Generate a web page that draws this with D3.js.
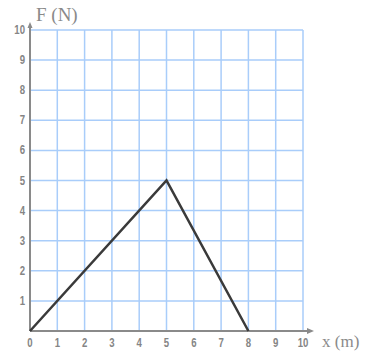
<!DOCTYPE html>
<html>
<head>
<meta charset="utf-8">
<script src="https://cdn.jsdelivr.net/npm/d3@7"></script>
<style>
  body { margin: 0; background: #fff; }
  svg { display: block; }
</style>
</head>
<body>
<div id="chart"></div>
<script>
// data
const xTicks = [0, 1, 2, 3, 4, 5, 6, 7, 8, 9, 10];
const yTicks = [1, 2, 3, 4, 5, 6, 7, 8, 9, 10];
const forceX = [0, 5, 8];
const forceY = [0, 5, 0];
const xLabel = "x (m)";
const yLabel = "F (N)";

const width = 376, height = 353;
const margin = { top: 30, right: 73, bottom: 22, left: 30 };

const svg = d3.select("#chart").append("svg")
    .attr("width", width)
    .attr("height", height);

const x = d3.scaleLinear().domain([0, 10]).range([margin.left, width - margin.right]);
const y = d3.scaleLinear().domain([0, 10]).range([height - margin.bottom, margin.top]);

// grid
const grid = svg.append("g").attr("stroke", "#a9cdfa").attr("stroke-width", 1.5);
grid.selectAll(".gx").data(xTicks.slice(1)).enter().append("line")
    .attr("x1", d => x(d)).attr("x2", d => x(d))
    .attr("y1", y(0)).attr("y2", y(10));
grid.selectAll(".gy").data(yTicks).enter().append("line")
    .attr("x1", x(0)).attr("x2", x(10))
    .attr("y1", d => y(d)).attr("y2", d => y(d));

// axes
const axisColor = "#8a8a8a";
svg.append("line")
    .attr("x1", x(0)).attr("x2", x(10) + 7)
    .attr("y1", y(0)).attr("y2", y(0))
    .attr("stroke", axisColor).attr("stroke-width", 2);
svg.append("path")
    .attr("d", `M${x(10) + 11},${y(0)} L${x(10) + 4},${y(0) - 3} L${x(10) + 4},${y(0) + 3} Z`)
    .attr("fill", axisColor);
svg.append("line")
    .attr("x1", x(0)).attr("x2", x(0))
    .attr("y1", y(0)).attr("y2", y(10) - 4)
    .attr("stroke", axisColor).attr("stroke-width", 2);
svg.append("path")
    .attr("d", `M${x(0)},${y(10) - 8} L${x(0) - 2.5},${y(10) - 2} L${x(0) + 2.5},${y(10) - 2} Z`)
    .attr("fill", axisColor);

// tick labels (narrow bold digits)
const tickFont = "'Liberation Sans', Arial, sans-serif";
svg.append("g").selectAll("text").data(xTicks).enter().append("text")
    .attr("transform", d => `translate(${x(d)},${y(0) + 16}) scale(0.8,1)`)
    .attr("text-anchor", "middle")
    .attr("font-family", tickFont)
    .attr("font-weight", "bold")
    .attr("font-size", 12)
    .attr("fill", "#858585")
    .text(d => d);
svg.append("g").selectAll("text").data(yTicks).enter().append("text")
    .attr("transform", d => `translate(${x(0) - 5},${y(d) + 4}) scale(0.8,1)`)
    .attr("text-anchor", "end")
    .attr("font-family", tickFont)
    .attr("font-weight", "bold")
    .attr("font-size", 12)
    .attr("fill", "#858585")
    .text(d => d);

// axis titles
svg.append("text")
    .attr("x", x(10) + 19)
    .attr("y", y(0) + 16)
    .attr("font-family", "'Liberation Serif', 'DejaVu Serif', serif")
    .attr("font-size", 17)
    .attr("fill", "#8a8a8a")
    .text(xLabel);
svg.append("text")
    .attr("x", x(0) + 6)
    .attr("y", 21)
    .attr("font-family", "'Liberation Serif', 'DejaVu Serif', serif")
    .attr("font-size", 19)
    .attr("fill", "#8a8a8a")
    .text(yLabel);

// force line
const line = d3.line().x(d => x(d[0])).y(d => y(d[1]));
svg.append("path")
    .datum(forceX.map((v, i) => [v, forceY[i]]))
    .attr("d", line)
    .attr("fill", "none")
    .attr("stroke", "#3a3a3a")
    .attr("stroke-width", 2.5)
    .attr("stroke-linejoin", "miter");
</script>
</body>
</html>
